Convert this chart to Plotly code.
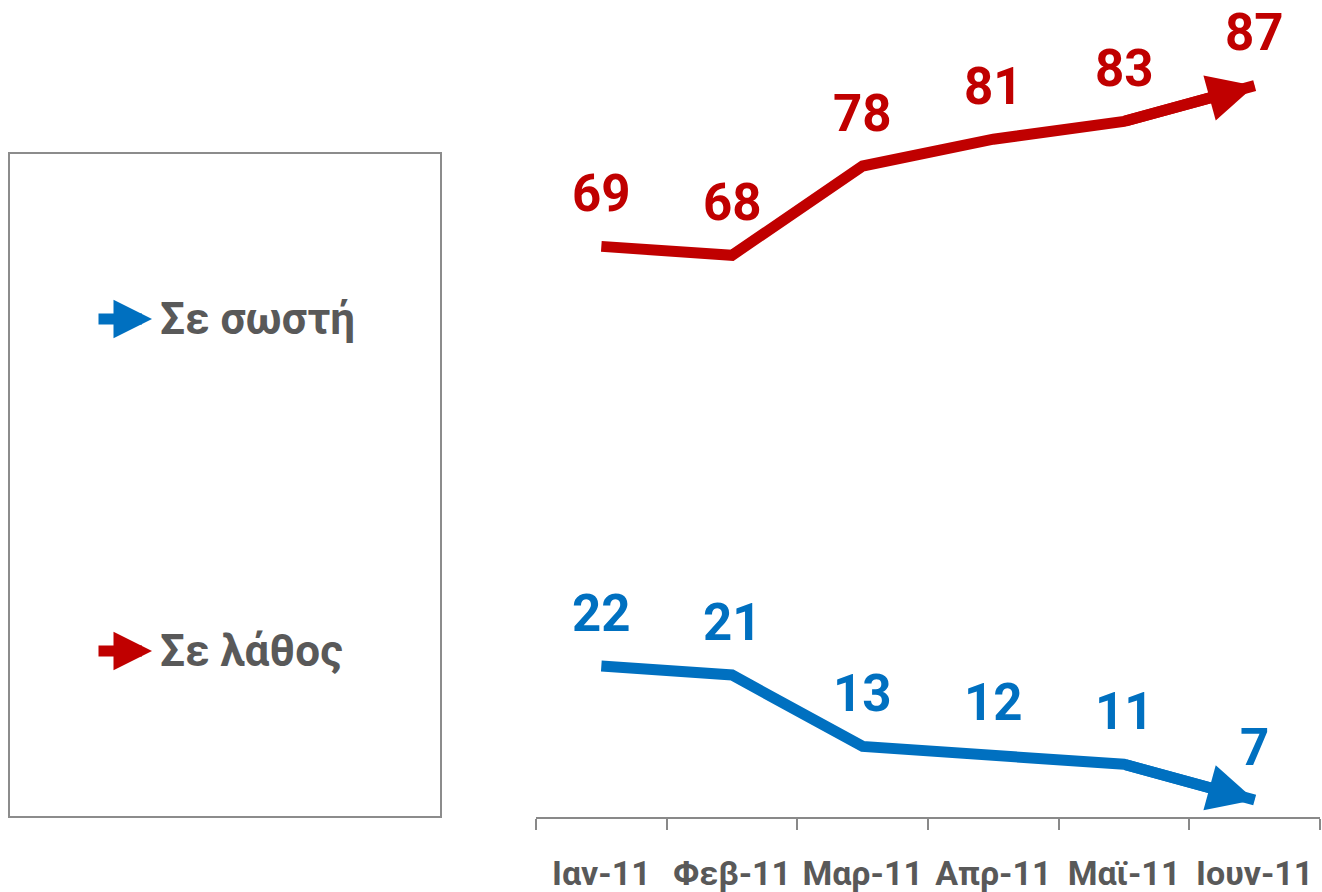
import plotly.graph_objects as go

months = ["Ιαν-11", "Φεβ-11", "Μαρ-11", "Απρ-11", "Μαϊ-11", "Ιουν-11"]
wrong = [69, 68, 78, 81, 83, 87]   # Σε λάθος
right = [22, 21, 13, 12, 11, 7]    # Σε σωστή

RED = "#C00000"
BLUE = "#0070C0"
GREY = "#595959"

W, H = 1322, 892
ML, MR, MT, MB = 536, 2, 20, 75
PW, PH = W - ML - MR, H - MT - MB


# pixel -> paper coords (used for the legend box that sits left of the plot)
def px(x):
    return (x - ML) / PW


def py(y):
    return (H - MB - y) / PH


fig = go.Figure()

# full line, end trimmed so the arrow head sits cleanly on top
for name, vals, col in [("Σε λάθος", wrong, RED), ("Σε σωστή", right, BLUE)]:
    fig.add_trace(go.Scatter(x=months, y=vals, mode="lines", name=name,
                             line=dict(color=col, width=11, backoff=26),
                             showlegend=False, hoverinfo="skip"))
    fig.add_annotation(x=months[-1], y=vals[-1], ax=months[-2], ay=vals[-2],
                       xref="x", yref="y", axref="x", ayref="y", text="",
                       showarrow=True, arrowhead=2, arrowsize=0.85, arrowwidth=11,
                       arrowcolor=col, standoff=0)
    for m, v in zip(months, vals):
        fig.add_annotation(x=m, y=v, text=str(v), showarrow=False, yshift=53,
                           font=dict(family="Roboto", size=51, color=col, weight="bold"))

# legend box
fig.add_shape(type="rect", xref="paper", yref="paper",
              x0=px(9), x1=px(441), y0=py(817), y1=py(153),
              line=dict(color="#8c8c8c", width=2), fillcolor="rgba(0,0,0,0)")

for label, col, ypos in [("Σε σωστή", BLUE, 319), ("Σε λάθος", RED, 651)]:
    fig.add_annotation(x=px(152), y=py(ypos), xref="paper", yref="paper",
                       ax=-55, ay=0, text="", showarrow=True, arrowhead=2,
                       arrowsize=0.7, arrowwidth=11, arrowcolor=col, standoff=0)
    fig.add_annotation(x=px(158), y=py(ypos), xref="paper", yref="paper",
                       text=label, showarrow=False, xanchor="left", yanchor="middle",
                       font=dict(family="Roboto", size=44, color=GREY, weight="bold"))

fig.update_xaxes(type="category", categoryorder="array", categoryarray=months,
                 range=[-0.5, 5.5], showline=True, linecolor="#898989",
                 linewidth=2, ticks="outside", tickson="boundaries", ticklen=11,
                 tickwidth=2, tickcolor="#898989", showgrid=False, zeroline=False,
                 ticklabelstandoff=25, tickangle=0, automargin=False,
                 tickfont=dict(family="Roboto", size=34, color=GREY, weight="bold"))
fig.update_yaxes(range=[5.1, 5.1 + PH / 8.93], visible=False, showgrid=False)

fig.update_layout(width=W, height=H, margin=dict(l=ML, r=MR, t=MT, b=MB),
                  plot_bgcolor="white", paper_bgcolor="white", showlegend=False)

fig.write_html("out.html", config={"displayModeBar": False},
               post_script="document.body.style.margin='0';")
